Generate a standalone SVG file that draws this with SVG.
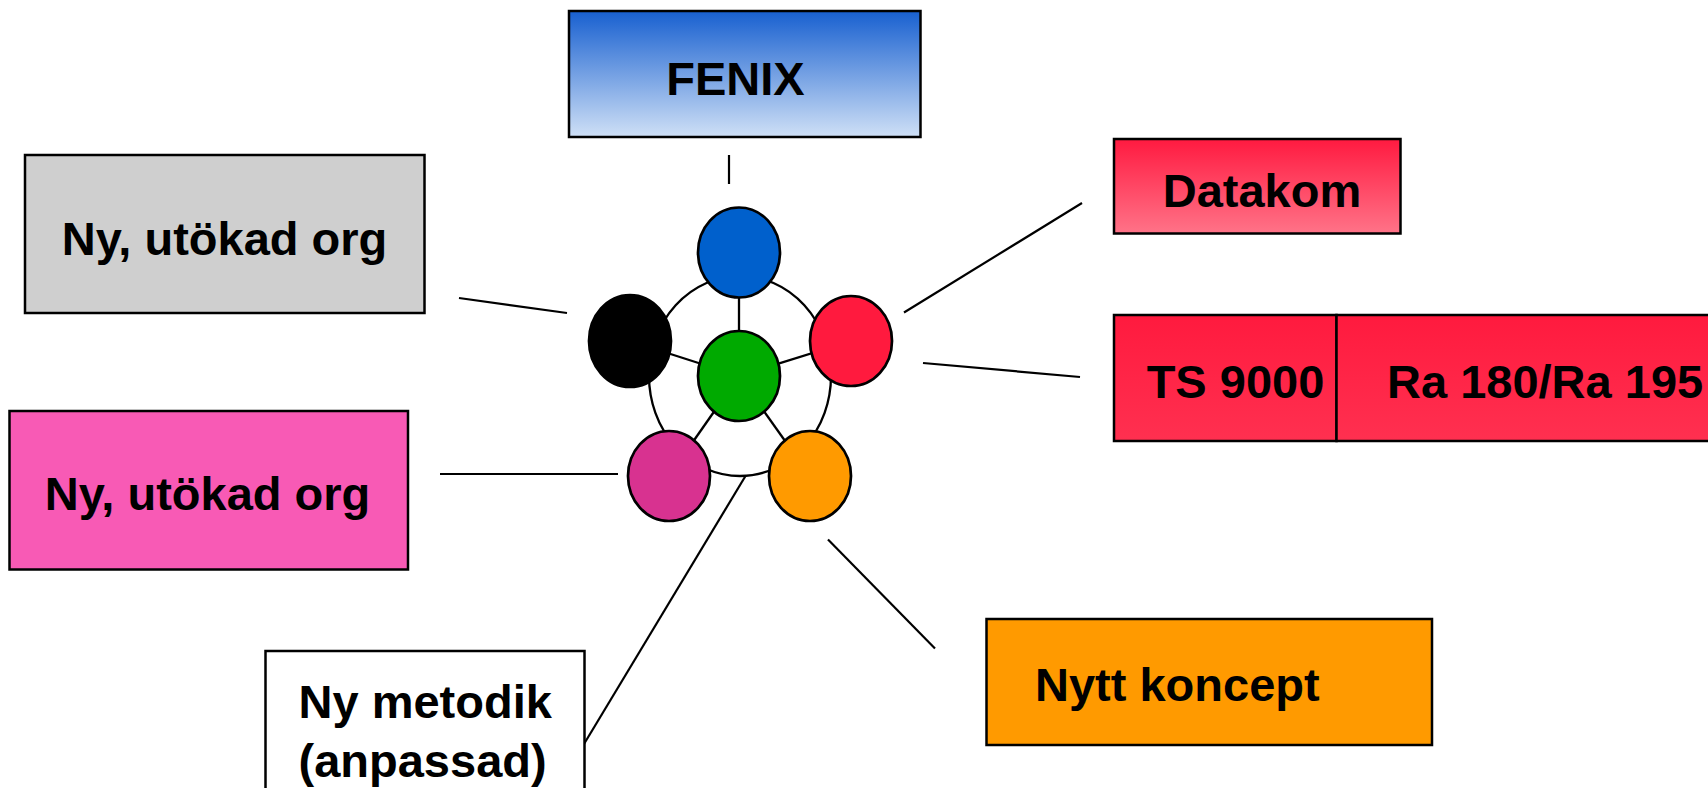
<svg xmlns="http://www.w3.org/2000/svg" width="1708" height="788" viewBox="0 0 1708 788">
<defs>
<linearGradient id="gBlue" x1="0" y1="0" x2="0" y2="1"><stop offset="0" stop-color="#1860d0"/><stop offset="1" stop-color="#cfe0f6"/></linearGradient>
<linearGradient id="gData" x1="0" y1="0" x2="0" y2="1"><stop offset="0" stop-color="#ff1a40"/><stop offset="1" stop-color="#ff7388"/></linearGradient>
<linearGradient id="gTs" x1="0" y1="0" x2="0" y2="1"><stop offset="0" stop-color="#ff1a3e"/><stop offset="1" stop-color="#ff3050"/></linearGradient>
</defs>
<style>
.box{stroke:#000;stroke-width:2.5}
.lbl{font-family:"Liberation Sans",Arial,sans-serif;font-weight:bold;font-size:47px;fill:#000}
.c{text-anchor:middle}
.conn line{stroke:#000;stroke-width:2.2}
.ell{stroke:#000;stroke-width:2.7}
</style>
<rect width="1708" height="788" fill="#fff"/>

<g id="connectors" class="conn">
<line x1="459" y1="298" x2="567" y2="313"/>
<line x1="729" y1="155" x2="729" y2="184"/>
<line x1="904" y1="312.5" x2="1082" y2="203"/>
<line x1="923" y1="363" x2="1080" y2="377"/>
<line x1="440" y1="474" x2="618" y2="474"/>
<line x1="745.5" y1="476" x2="584" y2="744"/>
<line x1="828" y1="539.5" x2="935" y2="648.5"/>
</g>

<g id="hub">
<ellipse cx="740" cy="376" rx="91" ry="100" fill="none" stroke="#000" stroke-width="2.3"/>
<g stroke="#000" stroke-width="2.3">
<line x1="739" y1="376" x2="739" y2="252.5"/>
<line x1="739" y1="376" x2="630" y2="341"/>
<line x1="739" y1="376" x2="851" y2="341"/>
<line x1="739" y1="376" x2="669" y2="476"/>
<line x1="739" y1="376" x2="810" y2="476"/>
</g>
<ellipse id="e-blue" class="ell" cx="739" cy="252.5" rx="41" ry="45" fill="#0060cc"/>
<ellipse id="e-black" class="ell" cx="630" cy="341" rx="41" ry="46" fill="#000"/>
<ellipse id="e-red" class="ell" cx="851" cy="341" rx="41" ry="45" fill="#ff1a3e"/>
<ellipse id="e-green" class="ell" cx="739" cy="376" rx="41" ry="45" fill="#00aa00"/>
<ellipse id="e-magenta" class="ell" cx="669" cy="476" rx="41" ry="45" fill="#d83290"/>
<ellipse id="e-orange" class="ell" cx="810" cy="476" rx="41" ry="45" fill="#ff9a00"/>
</g>

<g id="fenix">
<rect class="box" x="569" y="11" width="351.5" height="126" fill="url(#gBlue)"/>
<text class="lbl c" x="735.5" y="95">FENIX</text>
</g>

<g id="org-gray">
<rect class="box" x="25" y="155" width="399.5" height="158" fill="#cfcfcf"/>
<text class="lbl c" x="224.5" y="255">Ny, utökad org</text>
</g>

<g id="datakom">
<rect class="box" x="1114" y="139" width="286.5" height="94.5" fill="url(#gData)"/>
<text class="lbl c" x="1262" y="206.5">Datakom</text>
</g>

<g id="ts9000">
<rect class="box" x="1114" y="315" width="222.5" height="126" fill="url(#gTs)"/>
<text class="lbl c" x="1235.5" y="398">TS 9000</text>
</g>

<g id="ra180">
<rect class="box" x="1336.5" y="315" width="400" height="126" fill="url(#gTs)"/>
<text class="lbl" x="1387" y="398">Ra 180/Ra 195</text>
</g>

<g id="org-pink">
<rect class="box" x="9.5" y="411" width="398.5" height="158.5" fill="#f85ab5"/>
<text class="lbl c" x="207.5" y="509.5">Ny, utökad org</text>
</g>

<g id="metodik">
<rect class="box" x="265.5" y="651" width="319" height="160" fill="#fff"/>
<text class="lbl" x="298.5" y="718">Ny metodik</text>
<text class="lbl" x="298.5" y="777">(anpassad)</text>
</g>

<g id="koncept">
<rect class="box" x="986.5" y="619" width="445.5" height="126" fill="#ff9a00"/>
<text class="lbl" x="1035" y="701">Nytt koncept</text>
</g>
</svg>
